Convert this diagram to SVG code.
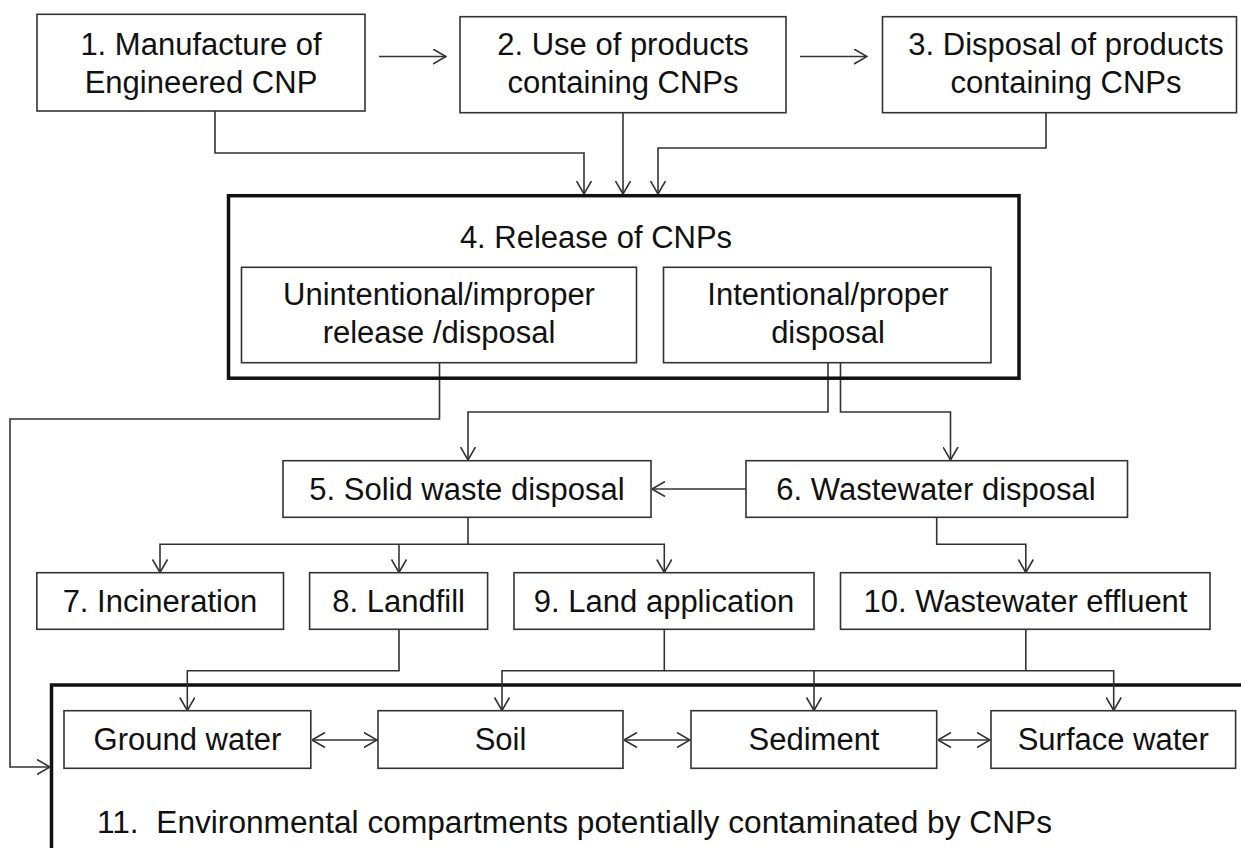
<svg xmlns="http://www.w3.org/2000/svg" width="1241" height="848" viewBox="0 0 1241 848">
<style>
.box{fill:#fff;stroke:#333;stroke-width:1.6}
.thick{fill:none;stroke:#111;stroke-width:3.5}
.t{font-family:"Liberation Sans",Arial,sans-serif;font-size:31px;fill:#111;text-anchor:middle}
.c{fill:none;stroke:#333;stroke-width:1.6}
.a{marker-end:url(#ah)}
.d{marker-end:url(#ah);marker-start:url(#ah)}
</style>
<defs>
<marker id="ah" viewBox="0 0 14 16" refX="13.5" refY="8" markerWidth="14" markerHeight="16" markerUnits="userSpaceOnUse" orient="auto-start-reverse">
<path d="M0.5,0.5 L13.5,8 L0.5,15.5" fill="none" stroke="#333" stroke-width="1.6"/>
</marker>
</defs>
<rect width="1241" height="848" fill="#fff"/>

<g id="n11">
<rect class="thick" x="51.5" y="685" width="1210" height="200"/>
<text class="t" x="97" y="833" textLength="955" lengthAdjust="spacingAndGlyphs" style="text-anchor:start;white-space:pre" xml:space="preserve">11.  Environmental compartments potentially contaminated by CNPs</text>
</g>

<g id="connectors">
<path class="c a" d="M379,56.5 H446"/>
<path class="c a" d="M800,56.5 H867"/>
<path class="c a" d="M215,111 V153 H584 V194"/>
<path class="c a" d="M623,113 V194"/>
<path class="c a" d="M1046,113 V148 H658 V194"/>
<path class="c a" d="M439.5,363 V419 H10 V767 H50"/>
<path class="c a" d="M828,363 V412 H468 V460"/>
<path class="c a" d="M840.5,363 V412 H950.5 V460"/>
<path class="c a" d="M746,489 H652"/>
<path class="c a" d="M468,517 V544.3 H160 V572.5"/>
<path class="c a" d="M468,544.3 H664.3 V572.5"/>
<path class="c a" d="M399,544.3 V572.5"/>
<path class="c a" d="M936.7,517 V544.3 H1025.8 V572.5"/>
<path class="c a" d="M399,629.3 V670.7 H187.3 V710.5"/>
<path class="c a" d="M664.3,629.3 V670.7 H502 V710.5"/>
<path class="c a" d="M664.3,670.7 H1113.7 V710.5"/>
<path class="c a" d="M814,670.7 V710.5"/>
<path class="c" d="M1025.8,629.3 V670.7"/>
<path class="c d" d="M312,740 H377"/>
<path class="c d" d="M624,740 H690"/>
<path class="c d" d="M938,740 H990"/>
</g>

<g id="n1">
<rect class="box" x="37" y="14.3" width="328" height="96.7"/>
<text class="t" x="201" y="55">1. Manufacture of</text>
<text class="t" x="201" y="93">Engineered CNP</text>
</g>
<g id="n2">
<rect class="box" x="460" y="16.7" width="326" height="96"/>
<text class="t" x="623" y="55">2. Use of products</text>
<text class="t" x="623" y="93">containing CNPs</text>
</g>
<g id="n3">
<rect class="box" x="882.5" y="16.7" width="354" height="96"/>
<text class="t" x="1066" y="55">3. Disposal of products</text>
<text class="t" x="1066" y="93">containing CNPs</text>
</g>

<g id="n4">
<rect class="thick" x="228.5" y="195.7" width="790.5" height="182.5"/>
<text class="t" x="596" y="248">4. Release of CNPs</text>
</g>
<g id="n4a">
<rect class="box" x="241.5" y="267.3" width="395" height="95.4"/>
<text class="t" x="439" y="305">Unintentional/improper</text>
<text class="t" x="439" y="343">release /disposal</text>
</g>
<g id="n4b">
<rect class="box" x="663.5" y="267.3" width="327.5" height="95.4"/>
<text class="t" x="828" y="305">Intentional/proper</text>
<text class="t" x="828" y="343">disposal</text>
</g>

<g id="n5">
<rect class="box" x="283" y="460.7" width="368" height="56.6"/>
<text class="t" x="467" y="500">5. Solid waste disposal</text>
</g>
<g id="n6">
<rect class="box" x="746" y="460.7" width="381.5" height="56.6"/>
<text class="t" x="936" y="500">6. Wastewater disposal</text>
</g>

<g id="n7">
<rect class="box" x="36.8" y="572.7" width="246.7" height="56.6"/>
<text class="t" x="160" y="611.7">7. Incineration</text>
</g>
<g id="n8">
<rect class="box" x="309.6" y="572.7" width="178" height="56.6"/>
<text class="t" x="398.6" y="611.7">8. Landfill</text>
</g>
<g id="n9">
<rect class="box" x="514" y="572.7" width="300" height="56.6"/>
<text class="t" x="664" y="611.7">9. Land application</text>
</g>
<g id="n10">
<rect class="box" x="840.5" y="572.7" width="369.5" height="56.6"/>
<text class="t" x="1025.5" y="611.7">10. Wastewater effluent</text>
</g>

<g id="gw">
<rect class="box" x="64" y="710.7" width="246.8" height="57.6"/>
<text class="t" x="187.5" y="750">Ground water</text>
</g>
<g id="soil">
<rect class="box" x="378" y="710.7" width="245" height="57.6"/>
<text class="t" x="500.5" y="750">Soil</text>
</g>
<g id="sediment">
<rect class="box" x="691" y="710.7" width="245.7" height="57.6"/>
<text class="t" x="814" y="750">Sediment</text>
</g>
<g id="surface">
<rect class="box" x="991" y="710.7" width="244.6" height="57.6"/>
<text class="t" x="1113.3" y="750">Surface water</text>
</g>
</svg>
